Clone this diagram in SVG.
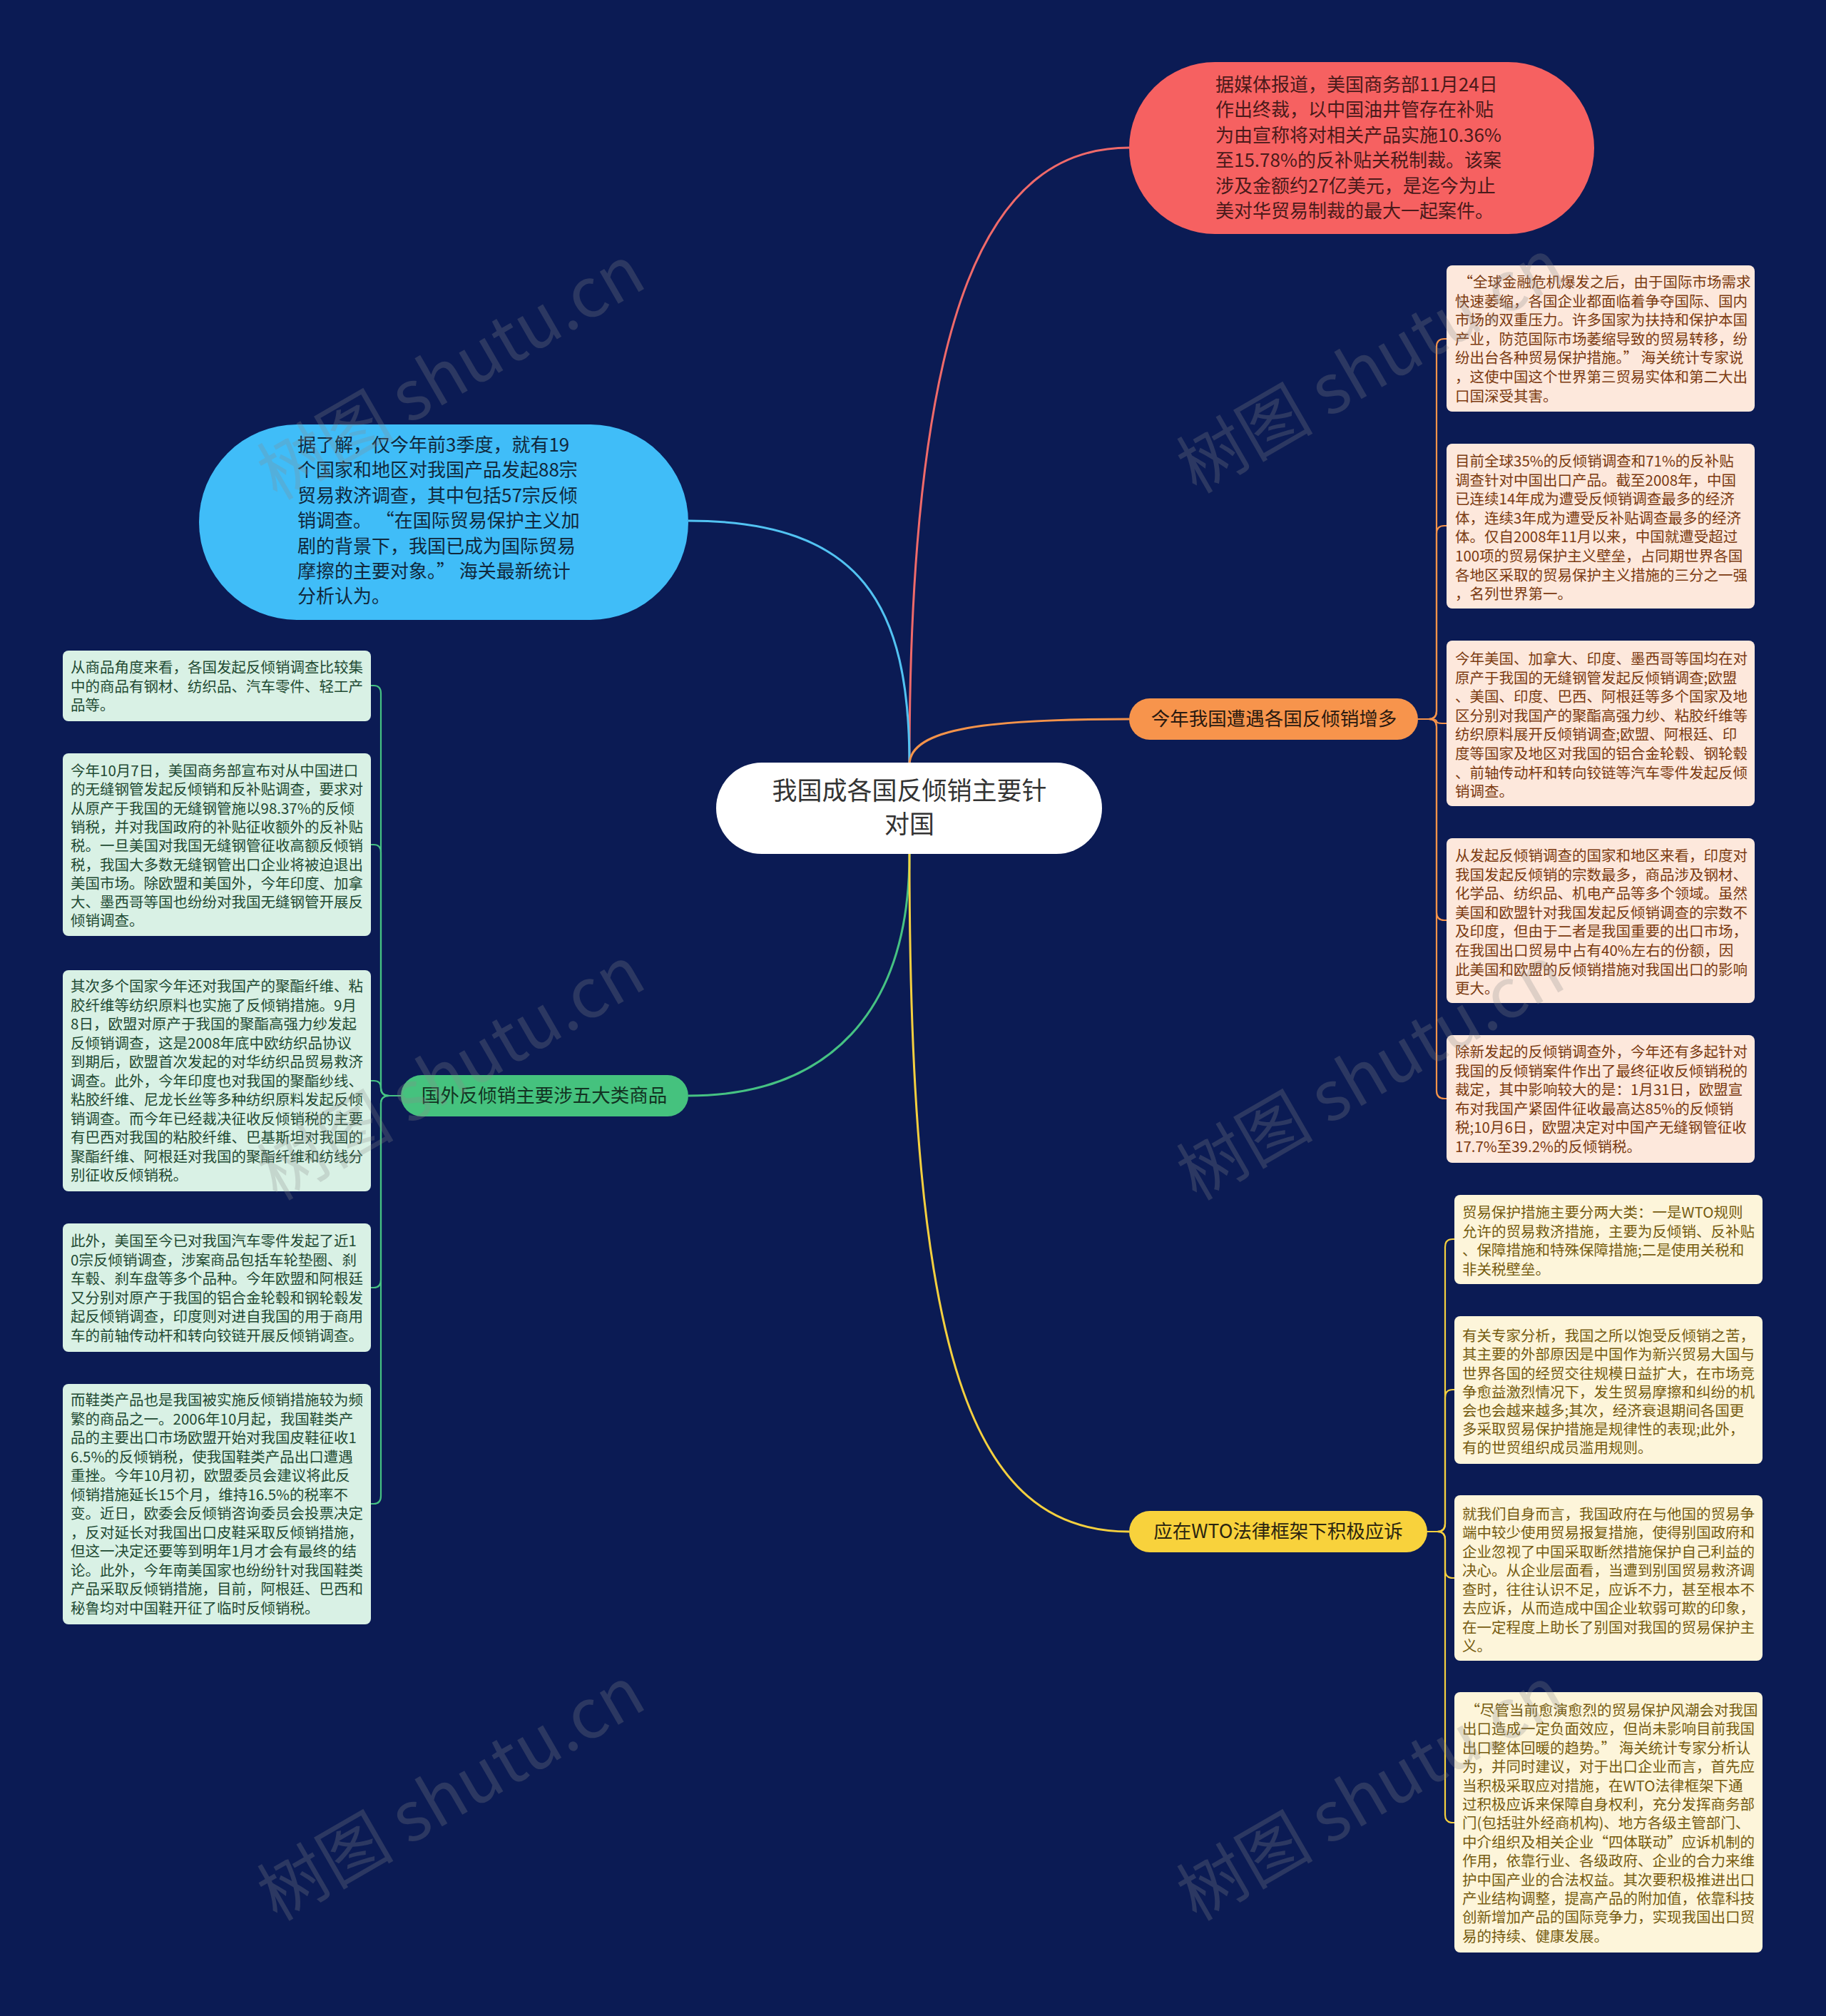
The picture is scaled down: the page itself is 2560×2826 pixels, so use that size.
<svg xmlns="http://www.w3.org/2000/svg" width="2560" height="2826" viewBox="0 0 2560 2826">
<style>
text{font-family:"Noto Sans CJK SC","Noto Sans",sans-serif;}
.sm{font-size:20.5px;}
.big{font-size:26px;}
.lbl{font-size:26.5px;text-anchor:middle;}
.ctr{font-size:35px;text-anchor:middle;fill:#333333;}
.ob{fill:#fde8dc;}
.ot{fill:#7b3a10;}
.yb{fill:#fdf5da;}
.yt{fill:#765c10;}
.gb{fill:#d9f1e5;}
.gt{fill:#1f4a33;}
.lk{fill:none;stroke-width:3;}
.br{fill:none;stroke-width:2.2;}
.wm{font-size:96px;fill:#8a8a8a;opacity:0.26;text-anchor:middle;}
</style>
<rect x="0" y="0" width="2560" height="2826" fill="#0b1b54"/>

<g id="connectors">
<path class="lk" stroke="#f06a6a" d="M1275,1072 C1275,420 1390,207 1583,207"/>
<path class="lk" stroke="#52c3f2" d="M965,730 C1210,730 1275,850 1275,1072"/>
<path class="lk" stroke="#f5934a" d="M1275,1072 C1275,1020 1390,1008 1583,1008"/>
<path class="lk" stroke="#46c283" d="M1275,1197 C1275,1420 1160,1536 965,1536"/>
<path class="lk" stroke="#f5d03f" d="M1275,1197 C1275,1900 1360,2147 1583,2147"/>
<g stroke="#f5934a">
<path class="br" d="M1988,1008 L2003,1008 Q2014,1008 2014,997 L2014,486 Q2014,475 2025,475 L2028,475"/>
<path class="br" d="M1988,1008 L2003,1008 Q2014,1008 2014,997 L2014,748 Q2014,737 2025,737 L2028,737"/>
<path class="br" d="M1988,1008 L2003,1008 Q2014,1008 2014,1011 Q2014,1014 2022,1014 L2028,1014"/>
<path class="br" d="M1988,1008 L2003,1008 Q2014,1008 2014,1019 L2014,1279 Q2014,1290 2025,1290 L2028,1290"/>
<path class="br" d="M1988,1008 L2003,1008 Q2014,1008 2014,1019 L2014,1529 Q2014,1540 2025,1540 L2028,1540"/>
</g>
<g stroke="#f5d03f">
<path class="br" d="M2001,2147 L2015,2147 Q2026,2147 2026,2136 L2026,1748 Q2026,1737 2037,1737 L2039,1737"/>
<path class="br" d="M2001,2147 L2015,2147 Q2026,2147 2026,2136 L2026,1959 Q2026,1948 2037,1948 L2039,1948"/>
<path class="br" d="M2001,2147 L2015,2147 Q2026,2147 2026,2158 L2026,2201 Q2026,2212 2037,2212 L2039,2212"/>
<path class="br" d="M2001,2147 L2015,2147 Q2026,2147 2026,2158 L2026,2544 Q2026,2555 2037,2555 L2039,2555"/>
</g>
<g stroke="#46c283">
<path class="br" d="M562,1536 L546,1536 Q534,1536 534,1525 L534,972 Q534,961 524,961 L520,961"/>
<path class="br" d="M562,1536 L546,1536 Q534,1536 534,1525 L534,1195 Q534,1184 524,1184 L520,1184"/>
<path class="br" d="M562,1536 L546,1536 Q534,1536 534,1525 Q534,1515 524,1515 L520,1515"/>
<path class="br" d="M562,1536 L546,1536 Q534,1536 534,1547 L534,1794 Q534,1805 524,1805 L520,1805"/>
<path class="br" d="M562,1536 L546,1536 Q534,1536 534,1547 L534,2097 Q534,2108 524,2108 L520,2108"/>
</g>
</g>

<g id="center">
<rect x="1004" y="1069" width="541" height="128" rx="64" fill="#ffffff"/>
<text class="ctr" x="1275" y="1121">我国成各国反倾销主要针</text>
<text class="ctr" x="1275" y="1168">对国</text>
</g>

<g id="n-red">
<rect x="1583" y="87" width="652" height="241" rx="120.5" fill="#f66161"/>
<g class="big" fill="#4a1a1a">
<text x="1704" y="128">据媒体报道，美国商务部11月24日</text>
<text x="1704" y="163">作出终裁，以中国油井管存在补贴</text>
<text x="1704" y="199">为由宣称将对相关产品实施10.36%</text>
<text x="1704" y="234">至15.78%的反补贴关税制裁。该案</text>
<text x="1704" y="270">涉及金额约27亿美元，是迄今为止</text>
<text x="1704" y="305">美对华贸易制裁的最大一起案件。</text>
</g>
</g>

<g id="n-blue">
<rect x="279" y="595" width="686" height="274" rx="137" fill="#40bdf8"/>
<g class="big" fill="#10283c">
<text x="417" y="633">据了解，仅今年前3季度，就有19</text>
<text x="417" y="668">个国家和地区对我国产品发起88宗</text>
<text x="417" y="704">贸易救济调查，其中包括57宗反倾</text>
<text x="417" y="739" xml:space="preserve">销调查。 “在国际贸易保护主义加</text>
<text x="417" y="775">剧的背景下，我国已成为国际贸易</text>
<text x="417" y="810" xml:space="preserve">摩擦的主要对象。” 海关最新统计</text>
<text x="417" y="845">分析认为。</text>
</g>
</g>

<g id="b-orange">
<rect x="1583" y="979" width="405" height="58" rx="29" fill="#f7944c"/>
<text class="lbl" x="1786" y="1017" fill="#2a1a10">今年我国遭遇各国反倾销增多</text>
</g>

<g id="o1">
<rect class="ob" x="2028" y="372" width="432" height="205" rx="8"/>
<g class="sm ot">
<text x="2040" y="403" xml:space="preserve"> “全球金融危机爆发之后，由于国际市场需求</text>
<text x="2040" y="430">快速萎缩，各国企业都面临着争夺国际、国内</text>
<text x="2040" y="456">市场的双重压力。许多国家为扶持和保护本国</text>
<text x="2040" y="483">产业，防范国际市场萎缩导致的贸易转移，纷</text>
<text x="2040" y="509" xml:space="preserve">纷出台各种贸易保护措施。” 海关统计专家说</text>
<text x="2040" y="536">，这使中国这个世界第三贸易实体和第二大出</text>
<text x="2040" y="563">口国深受其害。</text>
</g>
</g>
<g id="o2">
<rect class="ob" x="2028" y="622" width="432" height="231" rx="8"/>
<g class="sm ot">
<text x="2040" y="654">目前全球35%的反倾销调查和71%的反补贴</text>
<text x="2040" y="681">调查针对中国出口产品。截至2008年，中国</text>
<text x="2040" y="707">已连续14年成为遭受反倾销调查最多的经济</text>
<text x="2040" y="734">体，连续3年成为遭受反补贴调查最多的经济</text>
<text x="2040" y="760">体。仅自2008年11月以来，中国就遭受超过</text>
<text x="2040" y="787">100项的贸易保护主义壁垒，占同期世界各国</text>
<text x="2040" y="814">各地区采取的贸易保护主义措施的三分之一强</text>
<text x="2040" y="840">，名列世界第一。</text>
</g>
</g>
<g id="o3">
<rect class="ob" x="2028" y="898" width="432" height="232" rx="8"/>
<g class="sm ot">
<text x="2040" y="931">今年美国、加拿大、印度、墨西哥等国均在对</text>
<text x="2040" y="958">原产于我国的无缝钢管发起反倾销调查;欧盟</text>
<text x="2040" y="984">、美国、印度、巴西、阿根廷等多个国家及地</text>
<text x="2040" y="1011">区分别对我国产的聚酯高强力纱、粘胶纤维等</text>
<text x="2040" y="1037">纺织原料展开反倾销调查;欧盟、阿根廷、印</text>
<text x="2040" y="1064">度等国家及地区对我国的铝合金轮毂、钢轮毂</text>
<text x="2040" y="1091">、前轴传动杆和转向铰链等汽车零件发起反倾</text>
<text x="2040" y="1117">销调查。</text>
</g>
</g>
<g id="o4">
<rect class="ob" x="2028" y="1175" width="432" height="231" rx="8"/>
<g class="sm ot">
<text x="2040" y="1207">从发起反倾销调查的国家和地区来看，印度对</text>
<text x="2040" y="1234">我国发起反倾销的宗数最多，商品涉及钢材、</text>
<text x="2040" y="1260">化学品、纺织品、机电产品等多个领域。虽然</text>
<text x="2040" y="1287">美国和欧盟针对我国发起反倾销调查的宗数不</text>
<text x="2040" y="1313">及印度，但由于二者是我国重要的出口市场，</text>
<text x="2040" y="1340">在我国出口贸易中占有40%左右的份额，因</text>
<text x="2040" y="1367">此美国和欧盟的反倾销措施对我国出口的影响</text>
<text x="2040" y="1393">更大。</text>
</g>
</g>
<g id="o5">
<rect class="ob" x="2028" y="1451" width="432" height="179" rx="8"/>
<g class="sm ot">
<text x="2040" y="1482">除新发起的反倾销调查外，今年还有多起针对</text>
<text x="2040" y="1509">我国的反倾销案件作出了最终征收反倾销税的</text>
<text x="2040" y="1535">裁定，其中影响较大的是：1月31日，欧盟宣</text>
<text x="2040" y="1562">布对我国产紧固件征收最高达85%的反倾销</text>
<text x="2040" y="1588">税;10月6日，欧盟决定对中国产无缝钢管征收</text>
<text x="2040" y="1615">17.7%至39.2%的反倾销税。</text>
</g>
</g>

<g id="b-yellow">
<rect x="1583" y="2118" width="418" height="58" rx="29" fill="#f8d23c"/>
<text class="lbl" x="1792" y="2156" fill="#2a2410">应在WTO法律框架下积极应诉</text>
</g>
<g id="y1">
<rect class="yb" x="2039" y="1675" width="432" height="125" rx="8"/>
<g class="sm yt">
<text x="2050" y="1707">贸易保护措施主要分两大类：一是WTO规则</text>
<text x="2050" y="1734">允许的贸易救济措施，主要为反倾销、反补贴</text>
<text x="2050" y="1760">、保障措施和特殊保障措施;二是使用关税和</text>
<text x="2050" y="1787">非关税壁垒。</text>
</g>
</g>
<g id="y2">
<rect class="yb" x="2039" y="1845" width="432" height="207" rx="8"/>
<g class="sm yt">
<text x="2050" y="1880">有关专家分析，我国之所以饱受反倾销之苦，</text>
<text x="2050" y="1906">其主要的外部原因是中国作为新兴贸易大国与</text>
<text x="2050" y="1933">世界各国的经贸交往规模日益扩大，在市场竞</text>
<text x="2050" y="1959">争愈益激烈情况下，发生贸易摩擦和纠纷的机</text>
<text x="2050" y="1985">会也会越来越多;其次，经济衰退期间各国更</text>
<text x="2050" y="2011">多采取贸易保护措施是规律性的表现;此外，</text>
<text x="2050" y="2037">有的世贸组织成员滥用规则。</text>
</g>
</g>
<g id="y3">
<rect class="yb" x="2039" y="2096" width="432" height="232" rx="8"/>
<g class="sm yt">
<text x="2050" y="2130">就我们自身而言，我国政府在与他国的贸易争</text>
<text x="2050" y="2156">端中较少使用贸易报复措施，使得别国政府和</text>
<text x="2050" y="2183">企业忽视了中国采取断然措施保护自己利益的</text>
<text x="2050" y="2209">决心。从企业层面看，当遭到别国贸易救济调</text>
<text x="2050" y="2236">查时，往往认识不足，应诉不力，甚至根本不</text>
<text x="2050" y="2262">去应诉，从而造成中国企业软弱可欺的印象，</text>
<text x="2050" y="2289">在一定程度上助长了别国对我国的贸易保护主</text>
<text x="2050" y="2315">义。</text>
</g>
</g>
<g id="y4">
<rect class="yb" x="2039" y="2372" width="432" height="365" rx="8"/>
<g class="sm yt">
<text x="2050" y="2405" xml:space="preserve"> “尽管当前愈演愈烈的贸易保护风潮会对我国</text>
<text x="2050" y="2431">出口造成一定负面效应，但尚未影响目前我国</text>
<text x="2050" y="2458" xml:space="preserve">出口整体回暖的趋势。” 海关统计专家分析认</text>
<text x="2050" y="2484">为，并同时建议，对于出口企业而言，首先应</text>
<text x="2050" y="2511">当积极采取应对措施，在WTO法律框架下通</text>
<text x="2050" y="2537">过积极应诉来保障自身权利，充分发挥商务部</text>
<text x="2050" y="2563">门(包括驻外经商机构)、地方各级主管部门、</text>
<text x="2050" y="2590">中介组织及相关企业“四体联动”应诉机制的</text>
<text x="2050" y="2616">作用，依靠行业、各级政府、企业的合力来维</text>
<text x="2050" y="2643">护中国产业的合法权益。其次要积极推进出口</text>
<text x="2050" y="2669">产业结构调整，提高产品的附加值，依靠科技</text>
<text x="2050" y="2695">创新增加产品的国际竞争力，实现我国出口贸</text>
<text x="2050" y="2722">易的持续、健康发展。</text>
</g>
</g>

<g id="b-green">
<rect x="562" y="1507" width="403" height="58" rx="29" fill="#45c27e"/>
<text class="lbl" x="763" y="1545" fill="#123322">国外反倾销主要涉五大类商品</text>
</g>
<g id="g1">
<rect class="gb" x="88" y="912" width="432" height="99" rx="8"/>
<g class="sm gt">
<text x="99" y="943">从商品角度来看，各国发起反倾销调查比较集</text>
<text x="99" y="970">中的商品有钢材、纺织品、汽车零件、轻工产</text>
<text x="99" y="996">品等。</text>
</g>
</g>
<g id="g2">
<rect class="gb" x="88" y="1056" width="432" height="256" rx="8"/>
<g class="sm gt">
<text x="99" y="1088">今年10月7日，美国商务部宣布对从中国进口</text>
<text x="99" y="1114">的无缝钢管发起反倾销和反补贴调查，要求对</text>
<text x="99" y="1141">从原产于我国的无缝钢管施以98.37%的反倾</text>
<text x="99" y="1167">销税，并对我国政府的补贴征收额外的反补贴</text>
<text x="99" y="1193">税。一旦美国对我国无缝钢管征收高额反倾销</text>
<text x="99" y="1220">税，我国大多数无缝钢管出口企业将被迫退出</text>
<text x="99" y="1246">美国市场。除欧盟和美国外，今年印度、加拿</text>
<text x="99" y="1272">大、墨西哥等国也纷纷对我国无缝钢管开展反</text>
<text x="99" y="1298">倾销调查。</text>
</g>
</g>
<g id="g3">
<rect class="gb" x="88" y="1360" width="432" height="310" rx="8"/>
<g class="sm gt">
<text x="99" y="1390">其次多个国家今年还对我国产的聚酯纤维、粘</text>
<text x="99" y="1417">胶纤维等纺织原料也实施了反倾销措施。9月</text>
<text x="99" y="1443">8日，欧盟对原产于我国的聚酯高强力纱发起</text>
<text x="99" y="1470">反倾销调查，这是2008年底中欧纺织品协议</text>
<text x="99" y="1496">到期后，欧盟首次发起的对华纺织品贸易救济</text>
<text x="99" y="1523">调查。此外，今年印度也对我国的聚酯纱线、</text>
<text x="99" y="1549">粘胶纤维、尼龙长丝等多种纺织原料发起反倾</text>
<text x="99" y="1576">销调查。而今年已经裁决征收反倾销税的主要</text>
<text x="99" y="1602">有巴西对我国的粘胶纤维、巴基斯坦对我国的</text>
<text x="99" y="1629">聚酯纤维、阿根廷对我国的聚酯纤维和纺线分</text>
<text x="99" y="1655">别征收反倾销税。</text>
</g>
</g>
<g id="g4">
<rect class="gb" x="88" y="1715" width="432" height="180" rx="8"/>
<g class="sm gt">
<text x="99" y="1747">此外，美国至今已对我国汽车零件发起了近1</text>
<text x="99" y="1774">0宗反倾销调查，涉案商品包括车轮垫圈、刹</text>
<text x="99" y="1800">车毂、刹车盘等多个品种。今年欧盟和阿根廷</text>
<text x="99" y="1827">又分别对原产于我国的铝合金轮毂和钢轮毂发</text>
<text x="99" y="1853">起反倾销调查，印度则对进自我国的用于商用</text>
<text x="99" y="1880">车的前轴传动杆和转向铰链开展反倾销调查。</text>
</g>
</g>
<g id="g5">
<rect class="gb" x="88" y="1940" width="432" height="337" rx="8"/>
<g class="sm gt">
<text x="99" y="1970">而鞋类产品也是我国被实施反倾销措施较为频</text>
<text x="99" y="1997">繁的商品之一。2006年10月起，我国鞋类产</text>
<text x="99" y="2023">品的主要出口市场欧盟开始对我国皮鞋征收1</text>
<text x="99" y="2050">6.5%的反倾销税，使我国鞋类产品出口遭遇</text>
<text x="99" y="2076">重挫。今年10月初，欧盟委员会建议将此反</text>
<text x="99" y="2103">倾销措施延长15个月，维持16.5%的税率不</text>
<text x="99" y="2129">变。近日，欧委会反倾销咨询委员会投票决定</text>
<text x="99" y="2156">，反对延长对我国出口皮鞋采取反倾销措施，</text>
<text x="99" y="2182">但这一决定还要等到明年1月才会有最终的结</text>
<text x="99" y="2209">论。此外，今年南美国家也纷纷针对我国鞋类</text>
<text x="99" y="2235">产品采取反倾销措施，目前，阿根廷、巴西和</text>
<text x="99" y="2262">秘鲁均对中国鞋开征了临时反倾销税。</text>
</g>
</g>

<g id="watermarks">
<text class="wm" transform="translate(632,522) rotate(-30)" y="34">树图 shutu.cn</text>
<text class="wm" transform="translate(1921,513) rotate(-30)" y="34">树图 shutu.cn</text>
<text class="wm" transform="translate(632,1504) rotate(-30)" y="34">树图 shutu.cn</text>
<text class="wm" transform="translate(1921,1504) rotate(-30)" y="34">树图 shutu.cn</text>
<text class="wm" transform="translate(632,2514) rotate(-30)" y="34">树图 shutu.cn</text>
<text class="wm" transform="translate(1921,2514) rotate(-30)" y="34">树图 shutu.cn</text>
</g>
</svg>
